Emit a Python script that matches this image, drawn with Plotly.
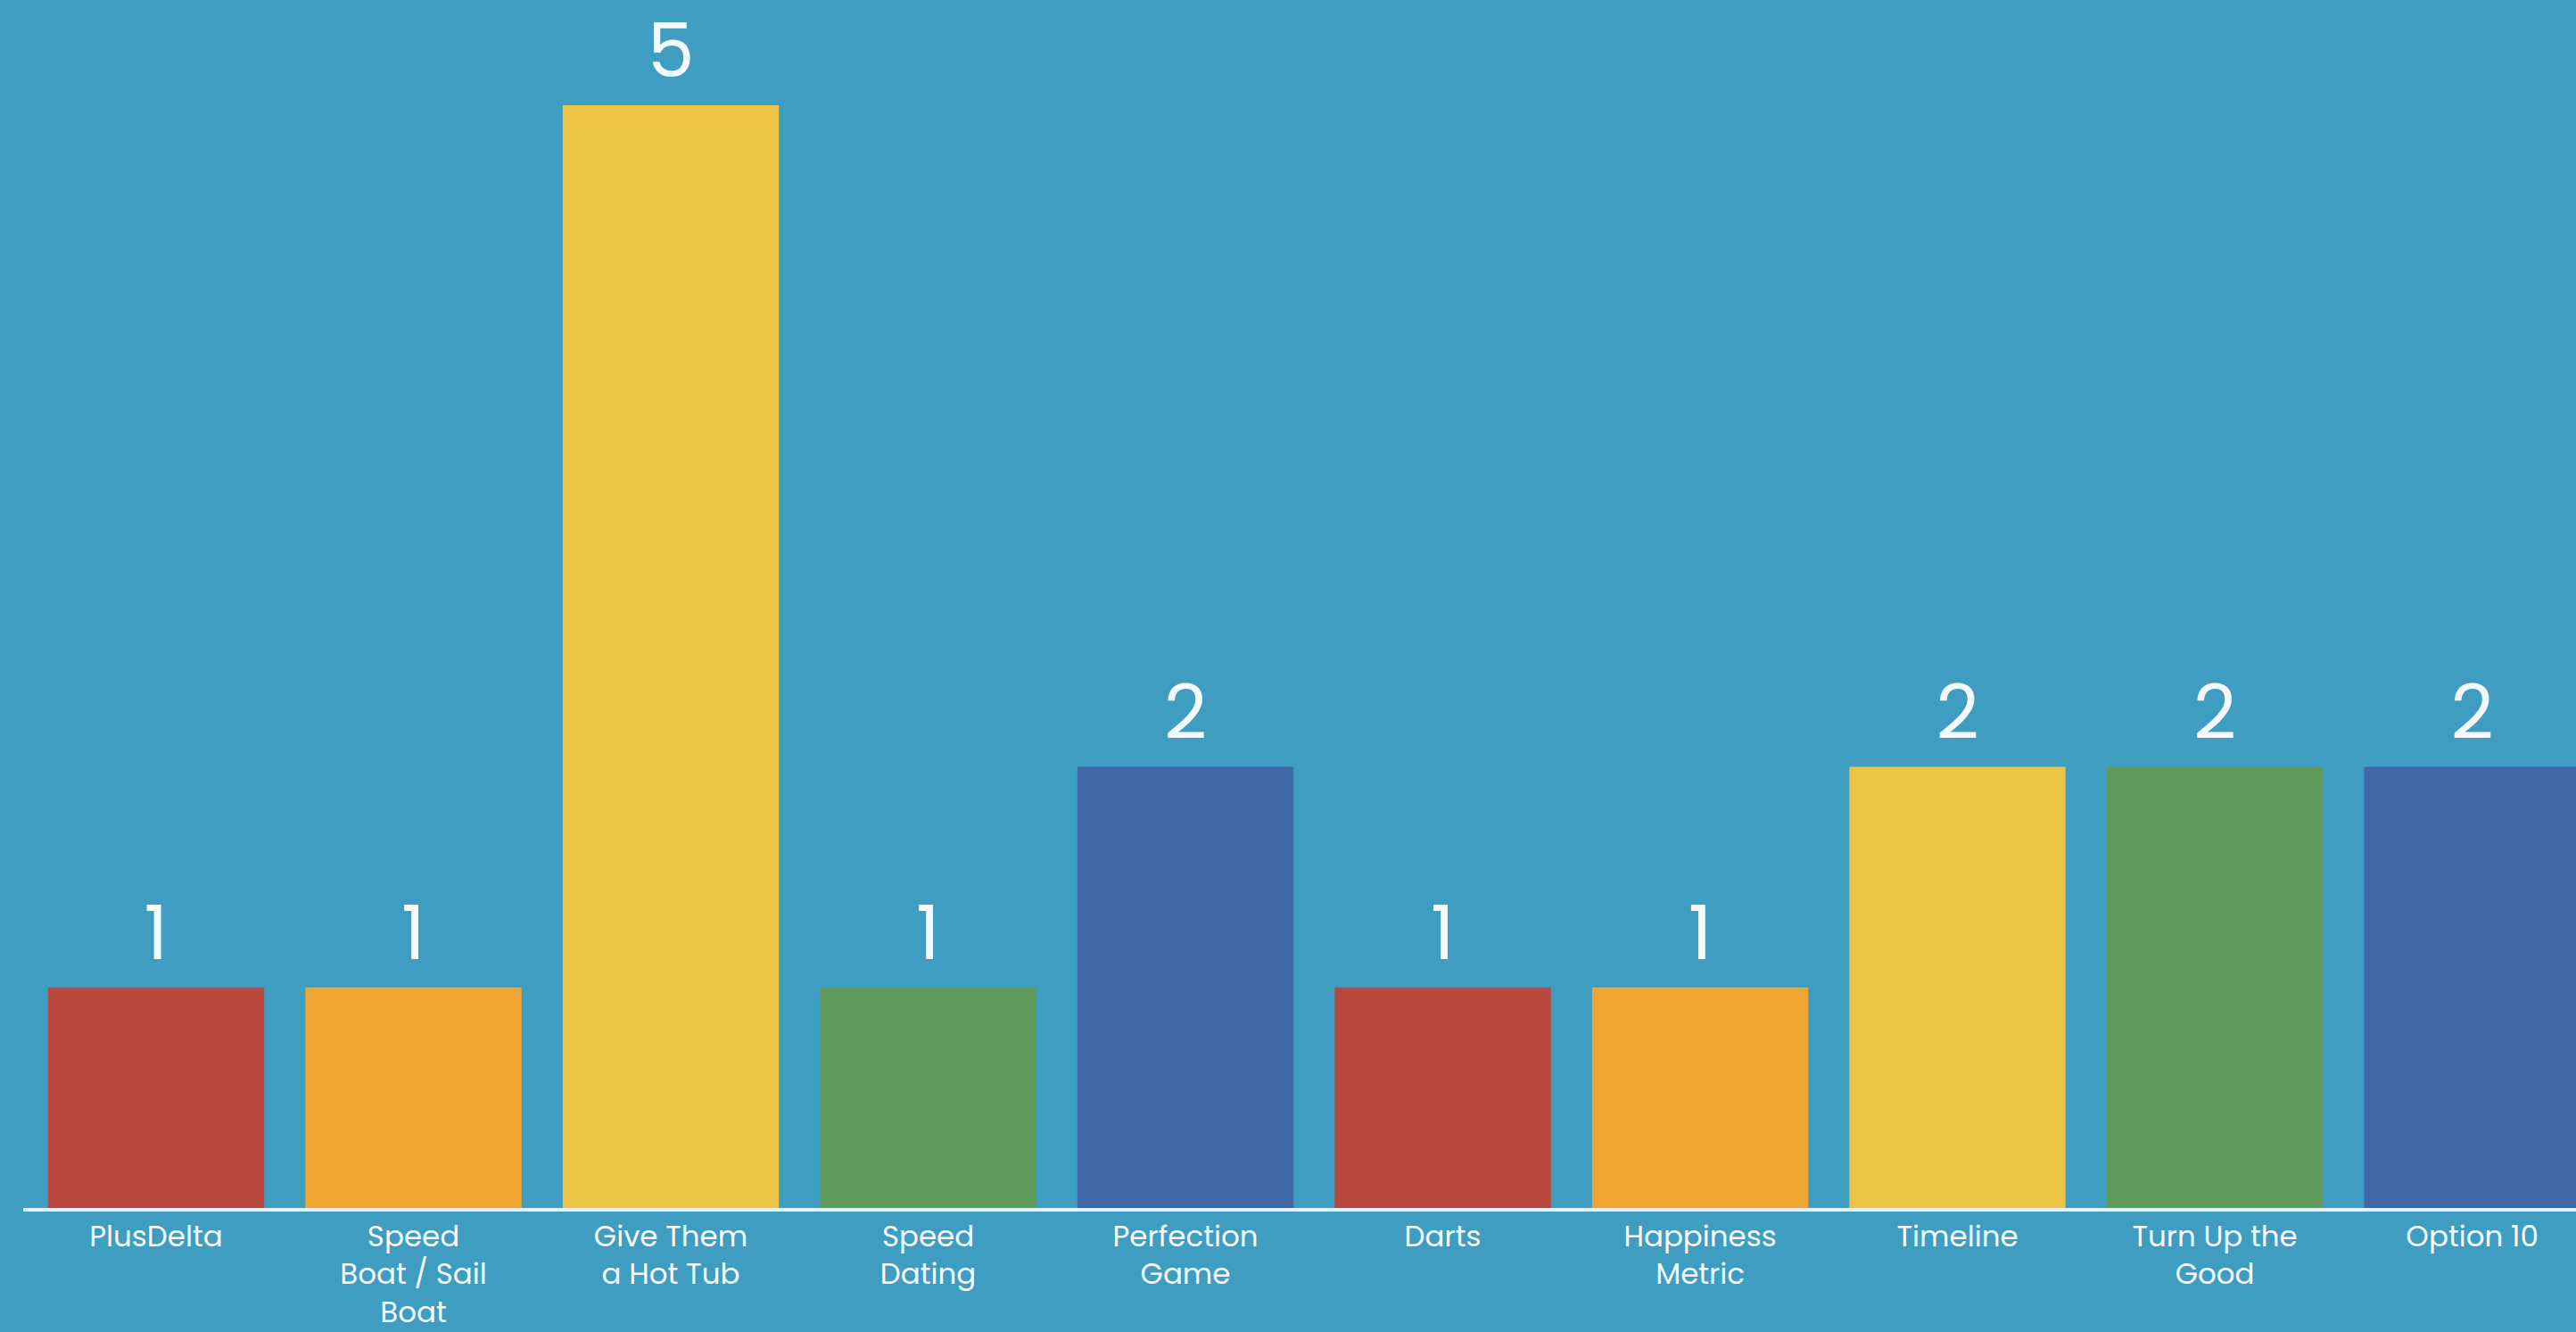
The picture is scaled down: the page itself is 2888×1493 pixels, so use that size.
import plotly.graph_objects as go

categories = ["PlusDelta", "Speed<br>Boat / Sail<br>Boat", "Give Them<br>a Hot Tub", "Speed<br>Dating",
              "Perfection<br>Game", "Darts", "Happiness<br>Metric", "Timeline", "Turn Up the<br>Good", "Option 10"]
values = [1, 1, 5, 1, 2, 1, 1, 2, 2, 2]
bar_colors = ["#B9473D", "#F0A532", "#EBC445", "#5F9A5A", "#4268A7",
              "#B9473D", "#F0A532", "#EBC445", "#5F9A5A", "#4268A7"]

BG = "#409DC2"
TXT = "#F4FAFC"

fig = go.Figure(go.Bar(
    x=categories,
    y=values,
    marker=dict(color=bar_colors, line=dict(width=0)),
    text=[str(v) for v in values],
    textposition="outside",
    textfont=dict(family="Poppins, Lato, Open Sans, sans-serif", size=84, color=TXT),
    cliponaxis=False,
    hoverinfo="skip",
))

fig.update_layout(
    width=2888, height=1493,
    paper_bgcolor=BG, plot_bgcolor=BG,
    margin=dict(l=26, r=0, t=30, b=139, autoexpand=False),
    bargap=0.16,
    showlegend=False,
    font=dict(family="Poppins, Lato, Open Sans, sans-serif", color=TXT),
    xaxis=dict(
        type="category",
        range=[-0.5165, 9.4035],
        automargin=False,
        showline=True, linecolor="#E3F2F7", linewidth=4,
        showgrid=False, zeroline=False,
        ticks="", ticklen=0,
        tickfont=dict(size=32.5, color=TXT),
        tickangle=0,
    ),
    yaxis=dict(
        range=[0, 5.356],
        automargin=False,
        visible=False,
        showgrid=False, zeroline=False,
    ),
)

fig.write_html(
    "out.html",
    config={"displayModeBar": False},
    post_script="document.body.style.margin='0';document.body.style.overflow='hidden';"
                "document.body.style.background='" + BG + "';",
)
